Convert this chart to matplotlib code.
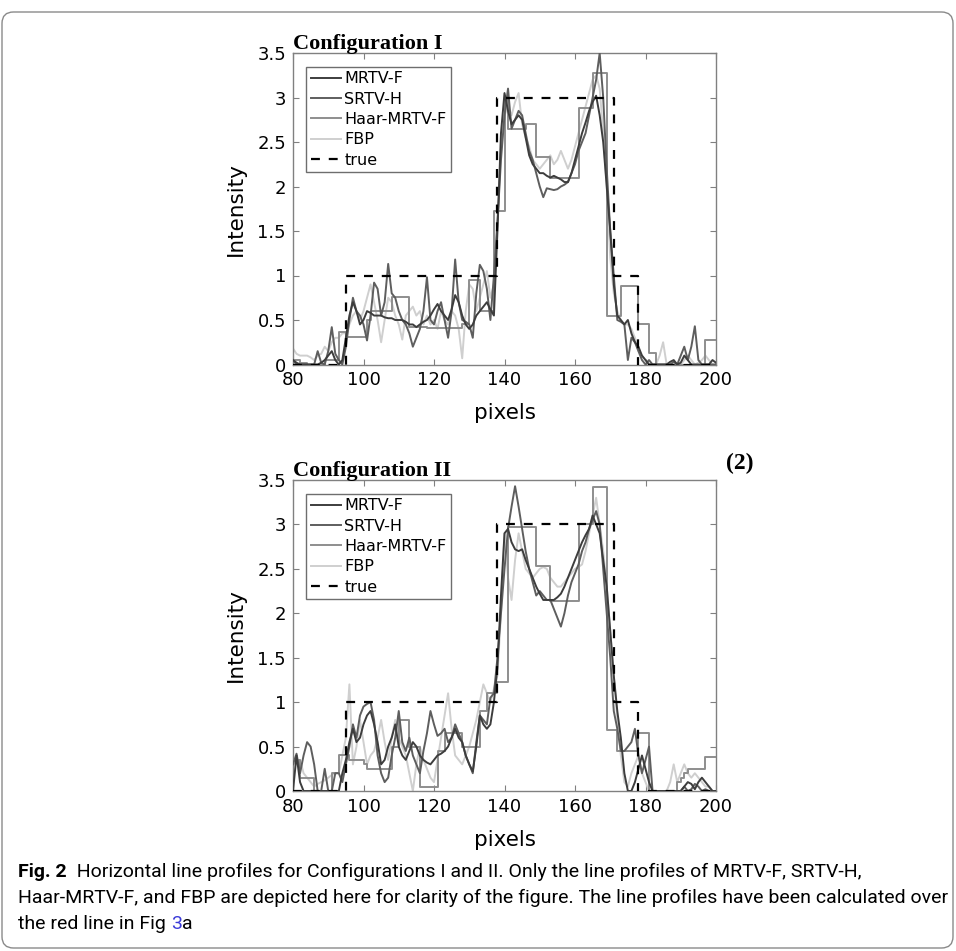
import numpy as np
import matplotlib
matplotlib.use("Agg")
import matplotlib.pyplot as plt
from matplotlib import font_manager
from matplotlib.patches import FancyBboxPatch

# ---- data -------------------------------------------------------------
x = np.arange(80, 201)

true_x = [80, 95, 95, 138, 138, 171, 171, 178, 178, 200]
true_y = [0, 0, 1, 1, 3, 3, 1, 1, 0, 0]

# Configuration I
top_mrtv = [0.05, 0.02, 0, 0, 0, 0, 0, 0, 0.02, 0.05,
            0.1, 0.15, 0.05, 0, 0.05, 0.3, 0.55, 0.7, 0.6, 0.45,
            0.5, 0.6, 0.58, 0.55, 0.55, 0.55, 0.53, 0.52, 0.52, 0.5,
            0.5, 0.5, 0.48, 0.45, 0.45, 0.42, 0.45, 0.48, 0.5, 0.55,
            0.62, 0.68, 0.6, 0.55, 0.5, 0.62, 0.78, 0.7, 0.55, 0.45,
            0.4, 0.45, 0.55, 0.6, 0.65, 0.7, 0.62, 0.55, 1.5, 2.6,
            3.05, 2.85, 2.7, 2.75, 2.8, 2.75, 2.55, 2.35, 2.25, 2.2,
            2.15, 2.15, 2.12, 2.1, 2.12, 2.1, 2.08, 2.05, 2.05, 2.15,
            2.3, 2.45, 2.6, 2.72, 2.85, 2.95, 3.02, 2.8, 2.5, 2.0,
            1.5, 0.9, 0.55, 0.5, 0.45, 0.5, 0.35, 0.25, 0.2, 0.1,
            0.05, 0, 0, 0, 0, 0, 0, 0.03, 0.05, 0,
            0.02, 0.1, 0.05, 0, 0, 0, 0, 0, 0, 0.05,
            0.02]
top_srtv = [0.05, 0, 0, 0, 0, 0, 0, 0.15, 0.02, 0,
            0.15, 0.42, 0.12, 0.05, 0, 0.2, 0.5, 0.75, 0.6, 0.55,
            0.45, 0.27, 0.55, 0.92, 0.85, 0.55, 0.7, 1.13, 0.8, 0.75,
            0.6, 0.5, 0.45, 0.35, 0.2, 0.3, 0.4, 0.6, 0.98, 0.5,
            0.45, 0.6, 0.7, 0.5, 0.3, 0.6, 1.18, 0.7, 0.5, 0.48,
            0.45, 0.3, 0.8, 1.12, 1.05, 0.85, 0.5, 1.0, 1.6, 2.3,
            2.8, 3.1, 2.65, 2.75, 2.85, 2.8, 2.6, 2.4, 2.3, 2.15,
            2.0, 1.88, 1.98, 1.97, 1.96, 1.97, 2.0, 2.02, 2.05, 2.15,
            2.25, 2.4, 2.5, 2.6, 2.8, 3.0, 3.2, 3.5, 3.0, 2.2,
            1.5, 1.0, 0.5, 0.48, 0.45, 0.05, 0.3, 0.25, 0.15, 0.05,
            0, 0.05, 0, 0, 0, 0, 0, 0, 0.03, 0,
            0.1, 0.2, 0.05, 0.2, 0.43, 0.05, 0, 0, 0, 0,
            0]
top_haar = [0.05, 0.05, 0.02, 0.02, 0, 0, 0, 0, 0, 0.05,
            0.05, 0.05, 0.05, 0.37, 0.37, 0.31, 0.31, 0.31, 0.31, 0.31,
            0.31, 0.5, 0.6, 0.6, 0.6, 0.6, 0.6, 0.6, 0.76, 0.76,
            0.76, 0.76, 0.76, 0.42, 0.42, 0.42, 0.42, 0.42, 0.41, 0.41,
            0.41, 0.41, 0.41, 0.41, 0.41, 0.41, 0.41, 0.41, 0.45, 0.45,
            0.95, 0.95, 0.95, 0.6, 0.6, 0.6, 0.6, 1.72, 1.72, 1.72,
            3.0, 2.65, 2.65, 2.65, 2.65, 2.65, 2.7, 2.7, 2.7, 2.33,
            2.33, 2.33, 2.33, 2.09, 2.09, 2.09, 2.09, 2.09, 2.09, 2.09,
            2.09, 2.88, 2.88, 2.88, 2.88, 3.28, 3.28, 3.28, 3.28, 0.55,
            0.55, 0.55, 0.55, 0.88, 0.88, 0.88, 0.88, 0.88, 0.45, 0.45,
            0.45, 0.13, 0.13, 0, 0, 0, 0, 0, 0, 0,
            0, 0, 0, 0, 0, 0, 0, 0.27, 0.27, 0.27,
            0.27]
top_fbp = [0.18, 0.12, 0.1, 0.1, 0.1, 0.08, 0.05, 0.1, 0.12, 0.2,
           0.15, 0.25, 0.3, 0.3, 0.35, 0.35, 0.45, 0.55, 0.6, 0.5,
           0.6, 0.75, 0.9, 0.7, 0.5, 0.25, 0.5, 0.75, 0.7, 0.55,
           0.45, 0.28, 0.55, 0.6, 0.65, 0.55, 0.6, 0.45, 0.55, 0.45,
           0.5, 0.4, 0.6, 0.5, 0.45, 0.6, 0.55, 0.4, 0.07, 0.6,
           0.9, 0.85, 0.6, 0.75, 0.9, 1.05, 0.75, 0.9, 1.6, 2.4,
           2.8, 2.9, 2.8, 2.95, 3.05, 2.7, 2.55, 2.45, 2.3, 2.25,
           2.2, 2.25, 2.3, 2.35, 2.25, 2.3, 2.4, 2.3, 2.2, 2.3,
           2.45, 2.6, 2.75, 2.9, 3.05, 3.2, 3.25, 3.1, 2.6, 2.0,
           1.2, 0.8, 0.6, 0.5, 0.45, 0.45, 0.4, 0.3, 0.15, 0.1,
           0.05, 0, 0, 0, 0.1, 0.25, 0, 0, 0, 0,
           0, 0.05, 0.1, 0.05, 0, 0.02, 0.05, 0.1, 0.05, 0,
           0]

# Configuration II
bot_mrtv = [0, 0.4, 0.1, 0, 0, 0, 0, 0, 0, 0,
            0, 0, 0, 0, 0.2, 0.35, 0.55, 0.7, 0.55, 0.6,
            0.75, 0.85, 0.9, 0.75, 0.55, 0.3, 0.35, 0.5, 0.6, 0.75,
            0.5, 0.4, 0.35, 0.45, 0.55, 0.5, 0.4, 0.35, 0.32, 0.3,
            0.35, 0.4, 0.42, 0.45, 0.5, 0.6, 0.7, 0.6, 0.55, 0.4,
            0.3, 0.22, 0.5, 0.85, 0.75, 0.7, 0.75, 1.0, 1.4, 2.2,
            2.9, 2.95, 2.8, 2.72, 2.7, 2.72, 2.6, 2.5, 2.4, 2.3,
            2.22, 2.15, 2.15, 2.15, 2.15, 2.18, 2.22, 2.3, 2.4, 2.5,
            2.6, 2.7, 2.8, 2.88, 2.95, 3.1, 3.0, 2.9, 2.6, 2.3,
            1.8, 1.3, 0.9, 0.6, 0.2, 0, 0, 0.1, 0.25, 0.4,
            0.25, 0.1, 0, 0, 0, 0, 0, 0, 0, 0,
            0, 0.05, 0.1, 0.08, 0.02, 0.1, 0.15, 0.1, 0.05, 0,
            0]
bot_srtv = [0.3, 0.42, 0.2, 0.4, 0.55, 0.5, 0.3, 0, 0, 0.25,
            0, 0, 0.2, 0.2, 0.1, 0.3, 0.5, 0.75, 0.6, 0.85,
            0.95, 0.98, 1.0, 0.8, 0.4, 0.2, 0.1, 0.15, 0.4, 0.6,
            0.9, 0.55, 0.45, 0.6, 0.4, 0.3, 0.2, 0.45, 0.65, 0.9,
            0.75, 0.62, 0.65, 0.7, 0.55, 0.6, 0.75, 0.65, 0.55, 0.4,
            0.3, 0.2, 0.55, 0.85, 0.8, 0.75, 1.05, 1.1, 1.5, 2.0,
            2.5, 2.95, 3.2, 3.43, 3.2, 2.95, 2.7, 2.5, 2.35, 2.2,
            2.25, 2.2, 2.15, 2.15, 2.05, 1.95, 1.85, 2.0, 2.2, 2.35,
            2.45, 2.55, 2.7, 2.8, 2.95, 3.05, 3.15, 3.0, 2.5, 2.0,
            1.5, 0.9, 0.7, 0.45, 0.45, 0.5, 0.55, 0.7, 0.4, 0.2,
            0.35, 0.5, 0, 0, 0, 0, 0, 0, 0, 0,
            0, 0.05, 0, 0.02, 0.08, 0.05, 0, 0.02, 0, 0,
            0]
bot_haar = [0.35, 0.35, 0.15, 0.15, 0.15, 0.15, 0, 0, 0, 0,
            0, 0.2, 0.2, 0.4, 0.4, 0.4, 0.35, 0.35, 0.35, 0.35,
            0.3, 0.25, 0.25, 0.25, 0.25, 0.25, 0.25, 0.25, 0.5, 0.5,
            0.8, 0.8, 0.8, 0.5, 0.5, 0.5, 0.05, 0.05, 0.05, 0.05,
            0.05, 0.45, 0.45, 0.65, 0.65, 0.65, 0.65, 0.65, 0.5, 0.5,
            0.5, 0.5, 0.5, 0.9, 0.9, 1.1, 1.1, 1.1, 1.23, 1.23,
            1.23, 2.97, 2.97, 2.97, 2.97, 2.97, 2.97, 2.97, 2.97, 2.53,
            2.53, 2.53, 2.53, 2.14, 2.14, 2.14, 2.14, 2.14, 2.14, 2.14,
            2.14, 3.0, 3.0, 3.0, 3.0, 3.42, 3.42, 3.42, 3.42, 0.69,
            0.69, 0.69, 0.45, 0.45, 0.45, 0.45, 0.45, 0.45, 0.65, 0.65,
            0.65, 0, 0, 0, 0, 0, 0, 0, 0, 0.1,
            0.15, 0.2, 0.25, 0.25, 0.25, 0.25, 0.25, 0.38, 0.38, 0.38,
            0.38]
bot_fbp = [0.3, 0.32, 0.35, 0.2, 0.15, 0.1, 0.05, 0.08, 0.1, 0.12,
           0.15, 0.18, 0.2, 0.2, 0.4, 0.6, 1.2, 0.3, 0.5, 0.8,
           0.55, 0.3, 0.4, 0.45, 0.6, 0.8, 0.55, 0.35, 0.6, 0.8,
           0.6, 0.5, 0.4, 0.2, 0.0, 0.3, 0.5, 0.35, 0.25, 0.15,
           0.1, 0.35, 0.6, 0.85, 1.1, 0.7, 0.4, 0.35, 0.3, 0.4,
           0.5, 0.65, 0.8, 1.0, 1.2, 1.1, 1.0, 1.15, 1.3, 2.0,
           2.9, 2.4, 2.15, 2.6, 2.9, 2.7, 2.5, 2.45, 2.4, 2.45,
           2.5, 2.52, 2.5, 2.4, 2.35, 2.3, 2.3, 2.35, 2.4, 2.45,
           2.5, 2.52, 2.55, 2.7, 2.9, 3.1, 3.3, 3.0, 2.7, 2.3,
           1.8, 1.3, 0.8, 0.4, 0.1, 0.05, 0.2, 0.3, 0.4, 0.2,
           0.1, 0, 0, 0, 0, 0, 0, 0.1, 0.3, 0.1,
           0.2, 0.3, 0.2, 0.15, 0.2, 0.15, 0.1, 0.05, 0.05, 0,
           0]

labels = ["MRTV-F", "SRTV-H", "Haar-MRTV-F", "FBP", "true"]
colors = ["#3d3d3d", "#5e5e5e", "#8e8e8e", "#cfcfcf"]
xticks = [80, 100, 120, 140, 160, 180, 200]
yticks = [0, 0.5, 1, 1.5, 2, 2.5, 3, 3.5]
ytick_labels = ["0", "0.5", "1", "1.5", "2", "2.5", "3", "3.5"]
titles = ["Configuration I", "Configuration II"]

# ---- figure -----------------------------------------------------------
names = {f.name for f in font_manager.fontManager.ttflist}
cap_font = "Liberation Sans Narrow" if "Liberation Sans Narrow" in names else "Roboto"

fig = plt.figure(figsize=(9.56, 9.51), dpi=100)
bg = fig.add_axes([0, 0, 1, 1], zorder=-1)
bg.set_axis_off()
bg.set_xlim(0, 1)
bg.set_ylim(0, 1)
bg.add_patch(FancyBboxPatch((2 / 956, 3 / 951), 951 / 956, 936 / 951,
                            boxstyle="round,pad=0,rounding_size=0.012",
                            fc="none", ec="#8a8a8a", lw=1.0))

ax_top = fig.add_axes([293 / 956, 1 - 364.5 / 951, 423 / 956, 311.5 / 951])
ax_bot = fig.add_axes([293 / 956, 1 - 791 / 951, 423 / 956, 311 / 951])

panels = [(ax_top, [top_mrtv, top_srtv, top_haar, top_fbp]),
          (ax_bot, [bot_mrtv, bot_srtv, bot_haar, bot_fbp])]

for i, (ax, series) in enumerate(panels):
    for j, ys in enumerate(series):
        ds = "steps-post" if j == 2 else "default"
        ax.plot(x, ys, color=colors[j], lw=1.4, drawstyle=ds, label=labels[j],
                zorder=5 - j)
    ax.plot(true_x, true_y, color="black", lw=1.6, ls=(0, (4, 4)),
            label=labels[4], zorder=6)

    ax.set_xlim(80, 200)
    ax.set_ylim(0, 3.5)
    ax.set_xticks(xticks)
    ax.set_yticks(yticks)
    ax.set_yticklabels(ytick_labels)
    ax.tick_params(direction="in", top=True, right=True, length=4, width=0.8,
                   color="#808080", labelsize=13, pad=5)
    for sp in ax.spines.values():
        sp.set_color("#808080")
        sp.set_linewidth(1.0)
    ax.set_xlabel("pixels", fontsize=15.5, labelpad=10)
    ax.set_ylabel("Intensity", fontsize=15.5, labelpad=8)
    ax.set_title(titles[i], loc="left", fontfamily="Liberation Serif",
                 fontweight="bold", fontsize=16, pad=3)
    leg = ax.legend(loc="upper left", bbox_to_anchor=(0.031, 0.956),
                    borderaxespad=0, fontsize=11.5, handlelength=1.9,
                    handletextpad=0.2, labelspacing=0.33, borderpad=0.3,
                    fancybox=False, framealpha=1)
    leg.get_frame().set_edgecolor("#6e6e6e")
    leg.get_frame().set_linewidth(1.0)

fig.text(740 / 956, 1 - 463 / 951, "(2)", fontfamily="Liberation Serif",
         fontweight="bold", fontsize=17, ha="center", va="center")

# ---- caption ----------------------------------------------------------
cs = 14
t1 = fig.text(18 / 956, 1 - 872 / 951, "Fig. 2", fontfamily=cap_font,
              fontweight="bold", fontsize=cs, va="center")
bg.annotate("  Horizontal line profiles for Configurations I and II. Only the line profiles of MRTV-F, SRTV-H,",
            xy=(1, 0), xycoords=t1, va="bottom", ha="left",
            fontfamily=cap_font, fontsize=cs)
fig.text(18 / 956, 1 - 898 / 951,
         "Haar-MRTV-F, and FBP are depicted here for clarity of the figure. The line profiles have been calculated over",
         fontfamily=cap_font, fontsize=cs, va="center")
t5 = fig.text(18 / 956, 1 - 924 / 951, "the red line in Fig ",
              fontfamily=cap_font, fontsize=cs, va="center")
t6 = bg.annotate("3", xy=(1, 0), xycoords=t5, va="bottom", ha="left",
                 fontfamily=cap_font, fontsize=cs, color="#3a3ad8")
bg.annotate("a", xy=(1, 0), xycoords=t6, va="bottom", ha="left",
            fontfamily=cap_font, fontsize=cs)

fig.savefig("out.png", dpi=100)
